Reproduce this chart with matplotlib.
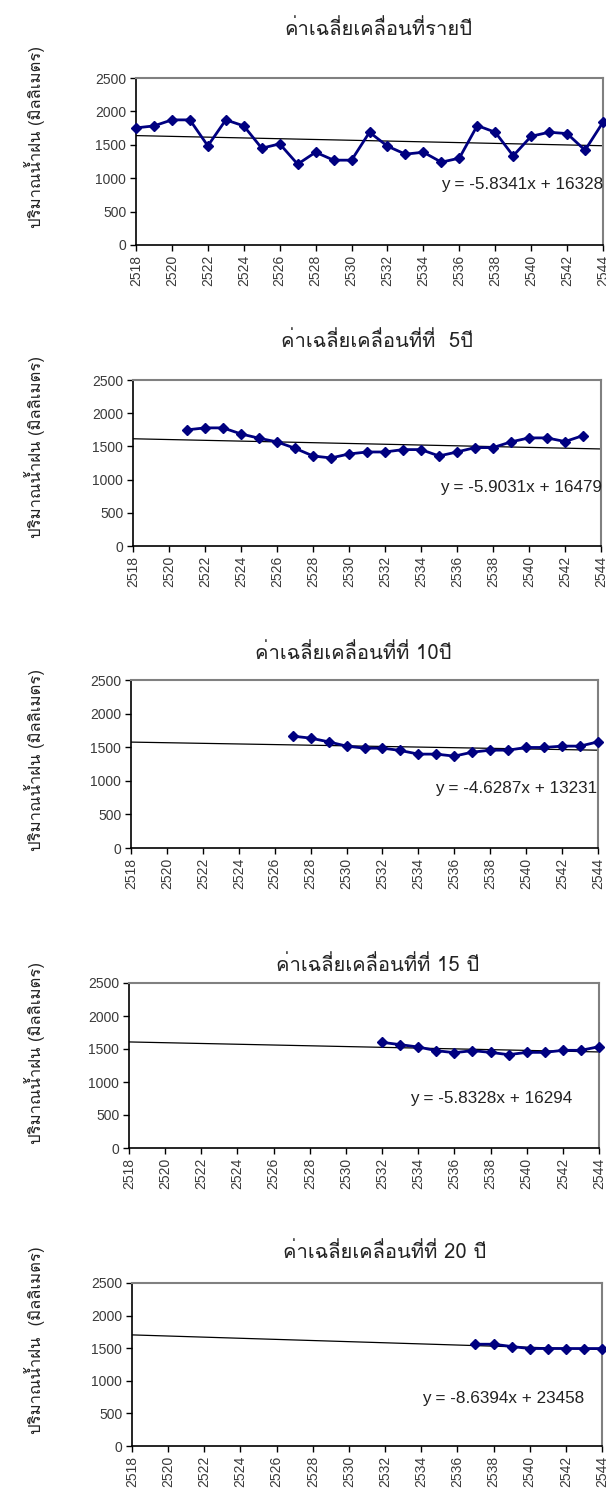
import matplotlib
matplotlib.use("Agg")
import matplotlib.pyplot as plt
from matplotlib import font_manager
from matplotlib.ft2font import FT2Font
import numpy as np

# Annual rainfall (mm) and its moving averages, Buddhist-era years
years_annual = list(range(2518, 2545))
rain_annual = [1753, 1783, 1873, 1873, 1484, 1873, 1783, 1449, 1514, 1210,
               1389, 1270, 1270, 1688, 1479, 1360, 1389, 1240, 1300, 1788,
               1688, 1335, 1628, 1688, 1668, 1419, 1838]

years_ma5 = list(range(2521, 2544))
rain_ma5 = [1749, 1779, 1779, 1688, 1623, 1568, 1472, 1356, 1326, 1386,
            1416, 1416, 1452, 1452, 1356, 1416, 1482, 1482, 1568, 1628,
            1628, 1573, 1663]

years_ma10 = list(range(2527, 2545))
rain_ma10 = [1665, 1635, 1580, 1516, 1486, 1486, 1451, 1397, 1397, 1367,
             1426, 1456, 1456, 1496, 1496, 1516, 1516, 1580]

years_ma15 = list(range(2532, 2545))
rain_ma15 = [1601, 1566, 1530, 1475, 1444, 1475, 1449, 1414, 1449, 1449,
             1480, 1480, 1535]

years_ma20 = list(range(2537, 2545))
rain_ma20 = [1561, 1561, 1526, 1495, 1495, 1495, 1495, 1495]

# Linear trend coefficients (slope, intercept) shown on each panel
trend_slope = [-5.8341, -5.9031, -4.6287, -5.8328, -8.6394]
trend_intercept = [16328, 16479, 13231, 16294, 23458]

titles = ["ค่าเฉลี่ยเคลื่อนที่รายปี",
          "ค่าเฉลี่ยเคลื่อนที่ที่  5ปี",
          "ค่าเฉลี่ยเคลื่อนที่ที่ 10ปี",
          "ค่าเฉลี่ยเคลื่อนที่ที่ 15 ปี",
          "ค่าเฉลี่ยเคลื่อนที่ที่ 20 ปี"]
ylabels = ["ปริมาณน้ำฝน (มิลลิเมตร)"] * 4 + ["ปริมาณน้ำฝน  (มิลลิเมตร)"]

x_ticks = list(range(2518, 2545, 2))
y_ticks = [0, 500, 1000, 1500, 2000, 2500]


def find_thai_font():
    for f in font_manager.fontManager.ttflist:
        try:
            cmap = FT2Font(f.fname).get_charmap()
        except Exception:
            continue
        if 0x0E04 in cmap and 0x0E48 in cmap and 0x0E35 in cmap:
            return f.name
    return None


thai = find_thai_font()
latin = "Liberation Sans"
thai_family = [thai, latin] if thai else [latin, "DejaVu Sans"]
plt.rcParams["font.family"] = [latin, "DejaVu Sans"]

W, H = 606, 1495
fig = plt.figure(figsize=(W / 100, H / 100), dpi=100)

series = [(years_annual, rain_annual), (years_ma5, rain_ma5),
          (years_ma10, rain_ma10), (years_ma15, rain_ma15),
          (years_ma20, rain_ma20)]

# pixel boxes: left, right, top, bottom
boxes = [(136, 603, 78, 245), (133, 601, 380, 546), (131, 598, 680, 848),
         (129, 599, 983, 1148), (132, 602, 1283, 1446)]
title_pos = [(378, 29), (377, 341), (353, 653), (378, 965), (385, 1252)]
ylabel_y = [137, 447, 760, 1053, 1340]
eq_pos = [(603, 184), (602, 487), (597, 788), (572, 1098), (584, 1398)]

navy = "#000080"
tick_col = "#3a3a3a"

for i, ((xs, ys), (l, r, t, b)) in enumerate(zip(series, boxes)):
    ax = fig.add_axes([l / W, 1 - b / H, (r - l) / W, (b - t) / H])
    ax.plot(xs, ys, color=navy, lw=2, marker="D", ms=5.5, mfc=navy, mec=navy,
            zorder=3, clip_on=False)
    tx = np.array([2518, 2544])
    ax.plot(tx, trend_slope[i] * tx + trend_intercept[i], color="black",
            lw=0.9, zorder=2)
    ax.set_xlim(2518, 2544)
    ax.set_ylim(0, 2500)
    ax.set_xticks(x_ticks)
    ax.set_xticklabels([str(v) for v in x_ticks], rotation=90, fontsize=10,
                       color=tick_col)
    ax.set_yticks(y_ticks)
    ax.set_yticklabels([str(v) for v in y_ticks], fontsize=10, color=tick_col)
    ax.tick_params(axis="both", direction="out", length=4, width=1,
                   color="black", pad=3)
    for s in ("left", "bottom"):
        ax.spines[s].set_color("black")
        ax.spines[s].set_linewidth(1.2)
    for s in ("top", "right"):
        ax.spines[s].set_color("#808080")
        ax.spines[s].set_linewidth(1.5)

    sign = "-" if trend_slope[i] < 0 else "+"
    eq = f"y = {sign}{abs(trend_slope[i]):.4f}x + {trend_intercept[i]}"
    ex, ey = eq_pos[i]
    fig.text(ex / W, 1 - ey / H, eq, ha="right", va="center", fontsize=12.3,
             color="#222222")

    cx, cy = title_pos[i]
    fig.text(cx / W, 1 - cy / H, titles[i], ha="center", va="center",
             fontsize=14.5, color="#222222", family=thai_family)
    fig.text(35 / W, 1 - ylabel_y[i] / H, ylabels[i], ha="center",
             va="center", rotation=90, fontsize=12, color="#222222",
             family=thai_family)

fig.savefig("out.png", dpi=100, facecolor="white")
